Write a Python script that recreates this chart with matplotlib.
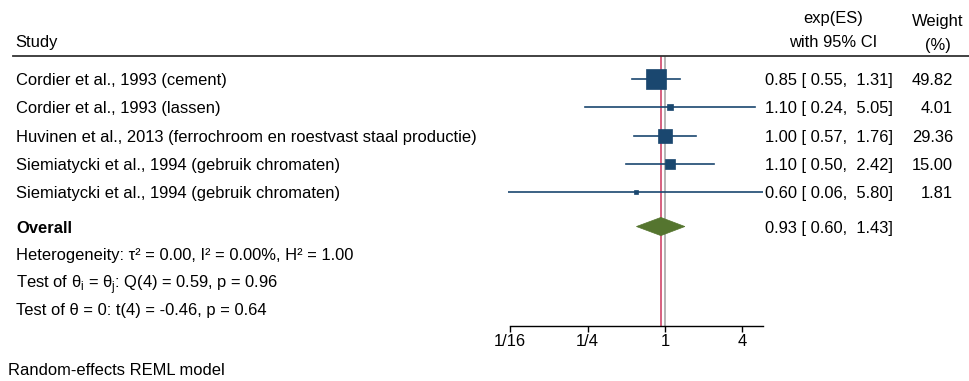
# -*- coding: utf-8 -*-
import numpy as np
import matplotlib
matplotlib.use('Agg')
import matplotlib.pyplot as plt
import matplotlib.transforms as mtransforms
from matplotlib.patches import Polygon

plt.rcParams['font.family'] = ['Liberation Sans', 'DejaVu Sans']
plt.rcParams['font.size'] = 11.9
plt.rcParams['mathtext.fontset'] = 'custom'
plt.rcParams['mathtext.rm'] = 'Liberation Sans'

# %% data ---------------------------------------------------------------------
studies = ['Cordier et al., 1993 (cement)',
           'Cordier et al., 1993 (lassen)',
           'Huvinen et al., 2013 (ferrochroom en roestvast staal productie)',
           'Siemiatycki et al., 1994 (gebruik chromaten)',
           'Siemiatycki et al., 1994 (gebruik chromaten)']
es = [0.85, 1.10, 1.00, 1.10, 0.60]
ci_lo = [0.55, 0.24, 0.57, 0.50, 0.06]
ci_hi = [1.31, 5.05, 1.76, 2.42, 5.80]
weight = [49.82, 4.01, 29.36, 15.00, 1.81]

overall_es, overall_lo, overall_hi = 0.93, 0.60, 1.43

info_lines = [u'Heterogeneity: \u03c4\u00b2 = 0.00, I\u00b2 = 0.00%, H\u00b2 = 1.00',
              u'Test of \u03b8$_\\mathregular{i}$ = \u03b8$_\\mathregular{j}$: Q(4) = 0.59, p = 0.96',
              u'Test of \u03b8 = 0: t(4) = -0.46, p = 0.64']

xticks = [1/16, 1/4, 1, 4]
xticklabels = ['1/16', '1/4', '1', '4']

# %% layout -------------------------------------------------------------------
W, H = 970, 381
fig = plt.figure(figsize=(W/100, H/100), dpi=100)

navy = '#1a476f'
green = '#55752f'

rows = np.arange(1, len(studies) + 1)
row_overall = 6.2
rows_info = [7.15, 8.1, 9.1]

x_left_px, x_right_px = 508, 763
y_top_px, y_bot_px = 56, 326
ax = fig.add_axes([x_left_px/W, 1 - y_bot_px/H,
                   (x_right_px - x_left_px)/W, (y_bot_px - y_top_px)/H])
ax.set_xscale('log', base=2)
ax.set_xlim(min(ci_lo), max(ci_hi))
ax.set_ylim(9.70, 0.20)
ax.patch.set_alpha(0)

#------------------
# reference lines
ax.axvline(1, color='#b4b4b4', lw=1.4, zorder=1)
ax.axvline(overall_es, color='#d6607f', lw=1.4, zorder=1)

# studies
for r, e, lo, hi, w in zip(rows, es, ci_lo, ci_hi, weight):
    ax.plot([lo, hi], [r, r], '-', color=navy, lw=1.2, zorder=2)
    ax.plot(e, r, 's', color=navy, mec=navy, mew=0.5,
            ms=1.94*np.sqrt(w), zorder=3)

# overall diamond
dh = 0.32
ax.add_patch(Polygon([[overall_lo, row_overall], [overall_es, row_overall - dh],
                      [overall_hi, row_overall], [overall_es, row_overall + dh]],
                     closed=True, fc=green, ec=green, lw=0.5, zorder=3))

#------------------
for s in ['top', 'left', 'right']:
    ax.spines[s].set_visible(False)
ax.spines['bottom'].set_bounds(1/16, max(ci_hi))
ax.spines['bottom'].set_linewidth(1.0)
ax.set_yticks([])
ax.set_xticks(xticks)
ax.set_xticklabels(xticklabels)
ax.xaxis.set_minor_locator(matplotlib.ticker.NullLocator())
ax.tick_params(axis='x', length=4, width=1.0, pad=2, labelsize=11.9)

#------------------
# text columns
trans = mtransforms.blended_transform_factory(fig.transFigure, ax.transData)
x_lab = 16/W
x_val = 765/W
x_wt = 953/W
va = 'center_baseline'

for r, name, e, lo, hi, w in zip(rows, studies, es, ci_lo, ci_hi, weight):
    ax.text(x_lab, r, name, transform=trans, ha='left', va=va)
    ax.text(x_val, r, '{:.2f} [{:5.2f}, {:5.2f}]'.format(e, lo, hi),
            transform=trans, ha='left', va=va)
    ax.text(x_wt, r, '{:.2f}'.format(w), transform=trans, ha='right', va=va)

ax.text(x_lab, row_overall, 'Overall', transform=trans, ha='left', va=va,
        fontweight='bold')
ax.text(x_val, row_overall, '{:.2f} [{:5.2f}, {:5.2f}]'.format(overall_es, overall_lo, overall_hi),
        transform=trans, ha='left', va=va)

for r, t in zip(rows_info, info_lines):
    ax.text(x_lab, r, t, transform=trans, ha='left', va=va)

#------------------
# header
fig.text(15/W, 1 - 41/H, 'Study', ha='left', va=va)
fig.text(833/W, 1 - 17/H, 'exp(ES)', ha='center', va=va)
fig.text(833/W, 1 - 41/H, 'with 95% CI', ha='center', va=va)
fig.text(938/W, 1 - 20/H, 'Weight', ha='center', va=va)
fig.text(938/W, 1 - 44/H, '(%)', ha='center', va=va)
fig.add_artist(plt.Line2D([13/W, 1.0], [1 - 56/H, 1 - 56/H],
                          transform=fig.transFigure, color='#333333', lw=1.3))

fig.text(8/W, 1 - 369/H, 'Random-effects REML model', ha='left', va=va)

plt.savefig('out.png', dpi=100)
